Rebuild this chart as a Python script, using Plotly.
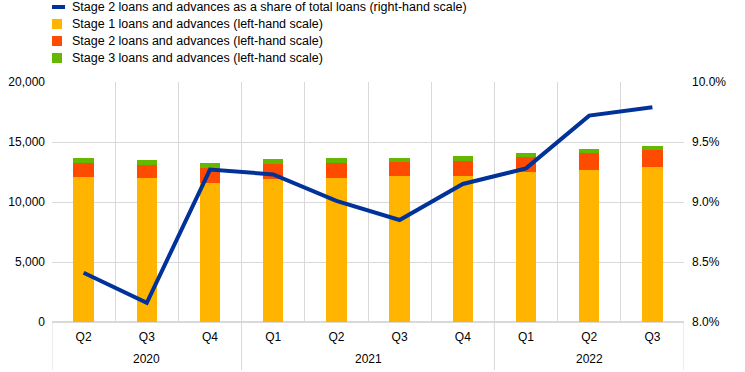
import plotly.graph_objects as go

years = ["2020", "2020", "2020", "2021", "2021", "2021", "2021", "2022", "2022", "2022"]
quarters = ["Q2", "Q3", "Q4", "Q1", "Q2", "Q3", "Q4", "Q1", "Q2", "Q3"]

stage1 = [12080, 11980, 11620, 11890, 12000, 12140, 12140, 12470, 12640, 12890]
stage2 = [1170, 1100, 1190, 1250, 1250, 1190, 1280, 1280, 1420, 1440]
stage3 = [450, 450, 440, 440, 390, 370, 390, 360, 330, 310]
share = [8.41, 8.16, 9.27, 9.23, 9.01, 8.85, 9.15, 9.28, 9.72, 9.79]

names = [
    "Stage 2 loans and advances as a share of total loans (right-hand scale)",
    "Stage 1 loans and advances (left-hand scale)",
    "Stage 2 loans and advances (left-hand scale)",
    "Stage 3 loans and advances (left-hand scale)",
]
colors = ["#003299", "#FFB400", "#FF4B00", "#65B800"]

n = len(quarters)
xi = list(range(n))
FONT = "Liberation Sans, Arial, sans-serif"
GRID = "#d9d9d9"

fig = go.Figure()
for vals, name, col in zip([stage1, stage2, stage3], names[1:], colors[1:]):
    fig.add_trace(go.Bar(x=xi, y=vals, name=name, marker=dict(color=col, line=dict(width=0)),
                         width=0.32, showlegend=False))
fig.add_trace(go.Scatter(x=xi, y=share, name=names[0], mode="lines",
                         line=dict(color=colors[0], width=4), yaxis="y2", showlegend=False))

W, H = 745, 372
ml, mr, mt, mb = 52, 61, 82, 50
pw, ph = W - ml - mr, H - mt - mb

def px(xp):
    return (xp - ml) / pw

def py(yp):
    return (H - mb - yp) / ph

shapes = []
annotations = []
# manual legend
ys = [7, 24, 41, 58]
for i, (name, col) in enumerate(zip(names, colors)):
    yc = ys[i]
    if i == 0:
        shapes.append(dict(type="line", xref="paper", yref="paper",
                           x0=px(52), x1=px(65), y0=py(yc), y1=py(yc),
                           line=dict(color=col, width=4)))
    else:
        shapes.append(dict(type="rect", xref="paper", yref="paper",
                           x0=px(52), x1=px(62), y0=py(yc - 5), y1=py(yc + 5),
                           fillcolor=col, line=dict(width=0)))
    annotations.append(dict(xref="paper", yref="paper", x=px(70), y=py(yc),
                            xanchor="left", yanchor="middle", text=name, showarrow=False,
                            font=dict(family=FONT, size=12.5, color="#000000")))

# year groups: dividers and labels
groups = []
for i, yv in enumerate(years):
    if not groups or groups[-1][0] != yv:
        groups.append([yv, i, i])
    else:
        groups[-1][2] = i
bounds = sorted({g[1] - 0.5 for g in groups} | {g[2] + 0.5 for g in groups})
for b in bounds:
    shapes.append(dict(type="line", xref="x", yref="paper", x0=b, x1=b,
                       y0=0, y1=py(370), line=dict(color=GRID, width=1)))
for yv, a, b in groups:
    annotations.append(dict(xref="x", yref="paper", x=(a + b) / 2, y=py(359),
                            xanchor="center", yanchor="middle", text=yv, showarrow=False,
                            font=dict(family=FONT, size=12, color="#000000")))

fig.update_layout(
    width=W, height=H,
    margin=dict(l=ml, r=mr, t=mt, b=mb, autoexpand=False),
    plot_bgcolor="white", paper_bgcolor="white",
    barmode="stack",
    font=dict(family=FONT, size=12, color="#000000"),
    shapes=shapes,
    annotations=annotations,
    xaxis=dict(range=[-0.5, n - 0.5], tickvals=xi, ticktext=quarters, showgrid=False,
               ticks="", showline=False, zeroline=False, ticklabelstandoff=6,
               minor=dict(tickvals=[i - 0.5 for i in range(n + 1)], showgrid=True,
                          gridcolor=GRID, gridwidth=1, ticks=""),
               tickfont=dict(family=FONT, size=12, color="#000000")),
    yaxis=dict(range=[0, 20000], dtick=5000, tickformat=",d", showgrid=True,
               gridcolor=GRID, gridwidth=1, zeroline=True, zerolinecolor=GRID,
               zerolinewidth=2, ticks="", showline=False, ticklabelstandoff=6,
               tickfont=dict(family=FONT, size=12, color="#000000")),
    yaxis2=dict(range=[8.0, 10.0], dtick=0.5, tickformat=".1f", ticksuffix="%",
                overlaying="y", side="right", showgrid=False, zeroline=False,
                showline=False, ticks="", ticklabelstandoff=7,
                tickfont=dict(family=FONT, size=12, color="#000000")),
)

fig.write_html("out.html", config={"displayModeBar": False},
               post_script="document.body.style.margin='0';")
